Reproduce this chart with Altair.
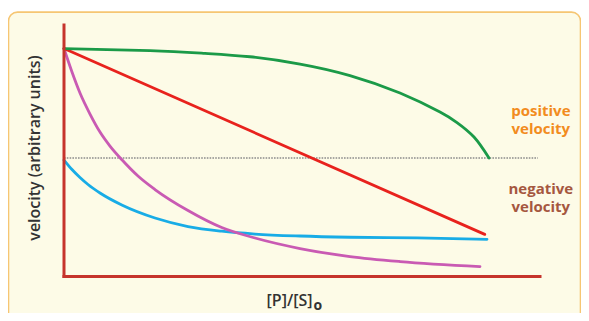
import altair as alt
import pandas as pd

# ---- data (x = [P]/[S]o in arbitrary units, y = velocity, 0 = dotted line) ----
green_x = [0, 0.2024, 0.3318, 0.4376, 0.5553, 0.6729, 0.7906, 0.8847, 0.9247, 0.9647, 1.0]
green_y = [1.0, 0.9817, 0.9562, 0.9251, 0.8584, 0.7534, 0.5936, 0.4201, 0.3242, 0.1918, 0.0]
red_x = [0, 0.99]
red_y = [1.0, -0.697]
blue_x = [0, 0.0188, 0.0376, 0.0565, 0.0847, 0.136, 0.2141, 0.2918, 0.3711, 0.4494,
          0.5553, 0.6729, 0.831, 0.9953]
blue_y = [-0.0183, -0.1050, -0.1781, -0.2420, -0.3196, -0.4292, -0.5479, -0.6256, -0.6685,
          -0.6941, -0.7123, -0.7233, -0.7288, -0.7425]
magenta_x = [0, 0.0188, 0.0376, 0.0612, 0.0847, 0.1082, 0.1358, 0.1741, 0.2141, 0.2918,
             0.3711, 0.4494, 0.5553, 0.6729, 0.7906, 0.9788]
magenta_y = [1.0, 0.7854, 0.5936, 0.4018, 0.2374, 0.1096, -0.0137, -0.1644, -0.2877, -0.4795,
             -0.6347, -0.7306, -0.8265, -0.8995, -0.9452, -0.9909]

x_domain = [0, 1.12]
y_domain = [-1.082, 1.215]

labels_text = ["positive\nvelocity", "negative\nvelocity"]
labels_x = [1.122, 1.122]
labels_y = [0.382, -0.333]
labels_color = ["#f28c1e", "#a5573f"]

y_title = "velocity (arbitrary units)"
x_title_main = "[P]/[S]"
x_title_sub = "o"

xs = alt.Scale(domain=x_domain, zero=False, nice=False)
ys = alt.Scale(domain=y_domain, zero=False, nice=False)


def X(f="x"):
    return alt.X(f"{f}:Q", scale=xs, axis=None)


def Y(f="y"):
    return alt.Y(f"{f}:Q", scale=ys, axis=None)


# background box
box_df = pd.DataFrame({"x": [-0.1306], "x2": [1.2153], "y": [1.333], "y2": [-1.70]})
box = alt.Chart(box_df).mark_rect(
    cornerRadius=9, fill="#fdfbe7", stroke="#f6c673", strokeWidth=1.6
).encode(x=X(), x2="x2:Q", y=Y(), y2="y2:Q")

# dotted zero line
dot_df = pd.DataFrame({"x": [0], "x2": [1.115], "y": [0], "y2": [0]})
dotted = alt.Chart(dot_df).mark_rule(
    color="#8c8c8c", strokeWidth=1.6, strokeDash=[1.6, 1.2]
).encode(x=X(), x2="x2:Q", y=Y(), y2="y2:Q")


def curve(xv, yv, color, interp="monotone", width=2.8):
    df = pd.DataFrame({"x": xv, "y": yv, "i": list(range(len(xv)))})
    return alt.Chart(df).mark_line(
        color=color, strokeWidth=width, interpolate=interp, strokeCap="round"
    ).encode(x=X(), y=Y(), order="i:Q")


blue = curve(blue_x, blue_y, "#18ace6")
magenta = curve(magenta_x, magenta_y, "#c95ab3")
red = curve(red_x, red_y, "#e8221d", "linear")
green = curve(green_x, green_y, "#1b9a48", "natural")

# axes drawn as rules
axes_df = pd.DataFrame({
    "x": [0, 0], "x2": [0, x_domain[1]],
    "y": [y_domain[0], y_domain[0]], "y2": [y_domain[1], y_domain[0]],
})
axes = alt.Chart(axes_df).mark_rule(
    color="#c6342c", strokeWidth=3, strokeCap="square"
).encode(x=X(), x2="x2:Q", y=Y(), y2="y2:Q")

# right-side labels
lab_df = pd.DataFrame({"x": labels_x, "y": labels_y, "t": labels_text, "c": labels_color})
labels = alt.Chart(lab_df).mark_text(
    font="Open Sans", fontSize=15, fontWeight="bold", align="center", baseline="alphabetic",
    lineBreak="\n", lineHeight=18
).encode(x=X(), y=Y(), text="t:N", color=alt.Color("c:N", scale=None))

# axis titles
yt_df = pd.DataFrame({"x": [-0.0682], "y": [0.0913], "t": [y_title]})
ytitle = alt.Chart(yt_df).mark_text(
    font="Open Sans", fontSize=16, fontWeight=600, color="#333333", angle=270,
    align="center", baseline="middle"
).encode(x=X(), y=Y(), text="t:N")

xt_df = pd.DataFrame({"x": [0.5847], "y": [-1.347], "t": [x_title_main]})
xtitle = alt.Chart(xt_df).mark_text(
    font="Open Sans", fontSize=16, fontWeight=600, color="#333333", align="right",
    baseline="alphabetic"
).encode(x=X(), y=Y(), text="t:N")

xs_df = pd.DataFrame({"x": [0.587], "y": [-1.3836], "t": [x_title_sub]})
xsub = alt.Chart(xs_df).mark_text(
    font="Open Sans", fontSize=14, fontWeight="bold", color="#333333", align="left",
    baseline="alphabetic"
).encode(x=X(), y=Y(), text="t:N")

chart = alt.layer(
    box, dotted, blue, magenta, red, green, axes, labels, ytitle, xtitle, xsub
).properties(
    width=476,
    height=251.5,
    autosize="none",
    padding={"left": 56, "top": 17, "right": 41, "bottom": 36.5},
    background="white",
).configure_view(stroke=None)

chart.save("out.html", embed_options={"renderer": "svg", "actions": False})
